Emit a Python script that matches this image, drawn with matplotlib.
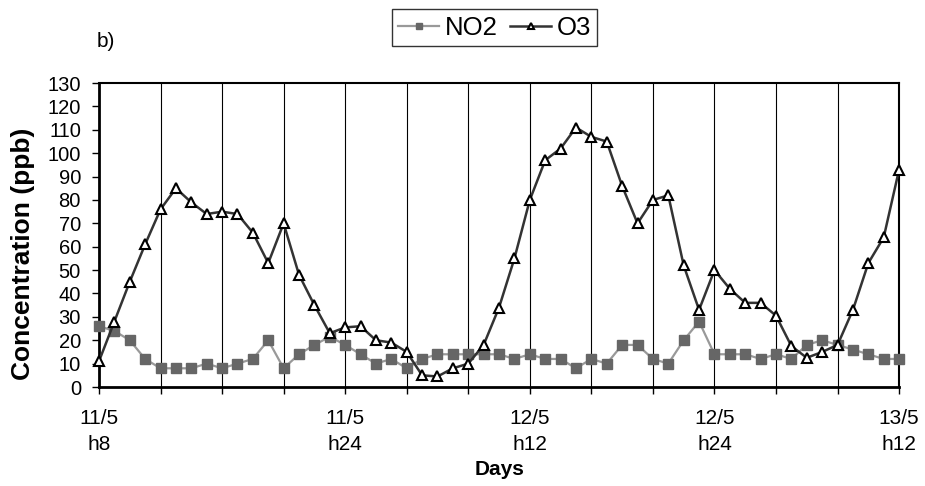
import matplotlib
matplotlib.use("Agg")
import matplotlib.pyplot as plt
import numpy as np

plt.rcParams['font.family'] = ['Liberation Sans', 'DejaVu Sans']

no2 = [26, 24, 20, 12, 8, 8, 8, 10, 8, 10, 12, 20, 8, 14, 18, 21.5, 18, 14,
       10, 12, 8, 12, 14, 14, 14, 14, 14, 12, 14, 12, 12, 8, 12, 10, 18, 18,
       12, 10, 20, 28, 14, 14, 14, 12, 14, 12, 18, 20, 18, 16, 14, 12, 12]
o3 = [11, 28, 45, 61, 76, 85, 79, 74, 75, 74, 66, 53, 70, 48, 35, 23, 25.5, 26,
      20, 19, 15, 5, 4.5, 8, 10, 18, 34, 55, 80, 97, 102, 111, 107, 105, 86, 70,
      80, 82, 52, 33, 50, 42, 36, 36, 30.5, 17.5, 12.5, 15, 18, 33, 53, 64, 93]
tick_labels = {0: "11/5\nh8", 16: "11/5\nh24", 28: "12/5\nh12", 40: "12/5\nh24", 52: "13/5\nh12"}

x = np.arange(len(o3))

fig = plt.figure(figsize=(9.25, 4.86), dpi=100)
ax = fig.add_axes([0.107, 0.2037, 0.865, 0.6253])

ln1, = ax.plot(x, no2, color='#999999', lw=1.6, marker='s', ms=7,
               mfc='#666666', mec='#666666', clip_on=False, zorder=3, label='NO2')
ln2, = ax.plot(x, o3, color='#333333', lw=1.8, marker='^', ms=7,
               mfc='white', mec='black', mew=1.5, clip_on=False, zorder=4, label='O3')

ax.set_xlim(0, 52)
ax.set_ylim(0, 130)
ax.set_yticks(np.arange(0, 131, 10))
ticks = np.arange(0, 53, 4)
ax.set_xticks(ticks)
ax.set_xticklabels([tick_labels.get(int(t), "") for t in ticks], linespacing=1.45)
for t in ticks[1:-1]:
    ax.axvline(t, color='black', lw=0.8, zorder=1)

ax.tick_params(axis='both', direction='out', length=5, width=1, colors='black')
ax.tick_params(axis='y', labelsize=14.5, pad=8)
ax.tick_params(axis='x', labelsize=15, pad=11)
for s in ['left', 'bottom']:
    ax.spines[s].set_linewidth(2)
for s in ['top', 'right']:
    ax.spines[s].set_linewidth(1.5)

fig.text(0.025, 0.478, "Concentration (ppb)", rotation=90, fontsize=19,
         fontweight='bold', ha='center', va='center')
fig.text(0.54, 0.033, "Days", fontsize=15, fontweight='bold', ha='center', va='center')

fig.text(0.104, 0.914, "b)", fontsize=15, ha='left', va='center')
leg = fig.legend(handles=[ln1, ln2], loc='center', bbox_to_anchor=(0.5346, 0.9434), ncol=2,
                 fontsize=18.5, frameon=True, fancybox=False, edgecolor='black',
                 handlelength=1.6, handletextpad=0.2, columnspacing=0.5, borderpad=0.25,
                 markerscale=0.7)
leg.get_frame().set_linewidth(1)

fig.savefig("out.png", dpi=100)
